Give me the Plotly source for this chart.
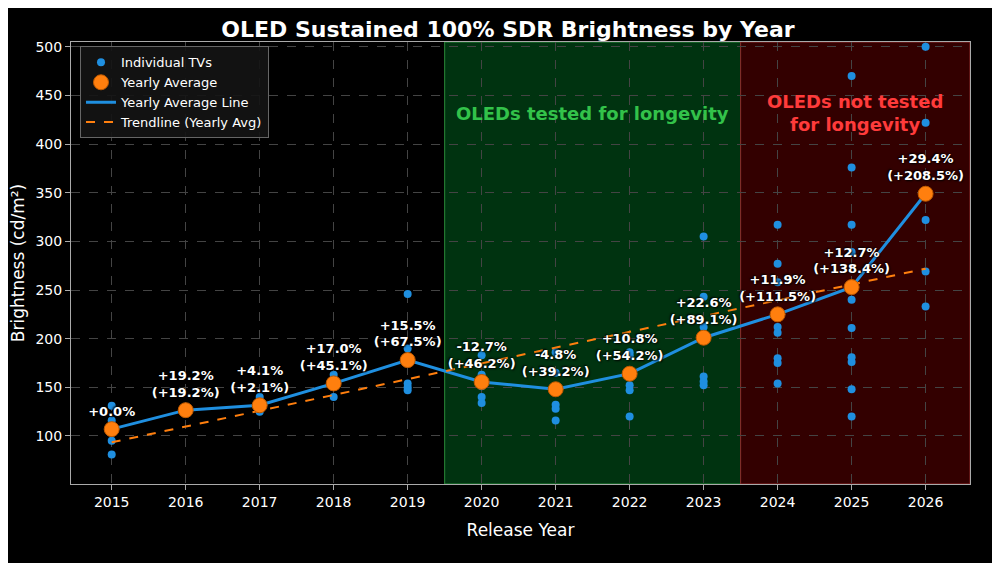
import numpy as np
import plotly.graph_objects as go

# individual TV measurements by year
tv_years = ([2015]*4 + [2016] + [2017]*3 + [2018]*3 + [2019]*5 + [2020]*5 + [2021]*5 +
            [2022]*6 + [2023]*6 + [2024]*8 + [2025]*10 + [2026]*5)
tv_values = [131, 116, 95, 81,
             126,
             140, 131, 125,
             163, 158, 140,
             246, 190, 154, 150, 147,
             183, 163, 151, 140, 134,
             186, 165, 132, 128, 116,
             186, 183, 165, 152, 147, 120,
             305, 243, 212, 161, 156, 152,
             317, 277, 258, 212, 206, 180, 175, 154,
             470, 376, 317, 289, 240, 211, 181, 176, 148, 120,
             500, 422, 322, 269, 233]

years = [2015, 2016, 2017, 2018, 2019, 2020, 2021, 2022, 2023, 2024, 2025, 2026]
avg = [107, 126.5, 131.5, 154, 178, 155.5, 148, 164, 201, 225, 253, 349]
labels = ["+0.0%", "+19.2%<br>(+19.2%)", "+4.1%<br>(+2.1%)", "+17.0%<br>(+45.1%)",
          "+15.5%<br>(+67.5%)", "-12.7%<br>(+46.2%)", "-4.8%<br>(+39.2%)",
          "+10.8%<br>(+54.2%)", "+22.6%<br>(+89.1%)", "+11.9%<br>(+111.5%)",
          "+12.7%<br>(+138.4%)", "+29.4%<br>(+208.5%)"]

p = np.polyfit(years, avg, 1)
trend = np.polyval(p, years)

blue = "#1f8fe0"
orange = "#ff7f0e"

fig = go.Figure()
fig.add_vrect(x0=2019.5, x1=2023.5, fillcolor="#003310", opacity=1, layer="below",
              line=dict(color="#2a8a3a", width=1))
fig.add_vrect(x0=2023.5, x1=2026.6, fillcolor="#330000", opacity=1, layer="below",
              line=dict(color="#8a2a2a", width=1))

fig.add_trace(go.Scatter(x=tv_years, y=tv_values, mode="markers", name="Individual TVs",
                         marker=dict(color=blue, size=8), legendrank=1))
fig.add_trace(go.Scatter(x=years, y=avg, mode="lines", name="Yearly Average Line",
                         line=dict(color=blue, width=3), legendrank=3))
fig.add_trace(go.Scatter(x=years, y=trend, mode="lines", name="Trendline (Yearly Avg)",
                         line=dict(color=orange, width=2, dash="dash"), legendrank=4))
fig.add_trace(go.Scatter(x=years, y=avg, mode="markers+text", name="Yearly Average",
                         marker=dict(color=orange, size=15, line=dict(color="#c05a00", width=1)),
                         text=labels, textposition="top center", legendrank=2,
                         textfont=dict(color="white", size=13, family="DejaVu Sans",
                                       weight="bold", shadow="1px 1px 2px black, -1px -1px 2px black")))

fig.add_annotation(x=2021.5, y=432, text="OLEDs tested for longevity", showarrow=False,
                   font=dict(color="#33c24a", size=18, family="DejaVu Sans", weight="bold"))
fig.add_annotation(x=2025.05, y=432, text="OLEDs not tested<br>for longevity", showarrow=False,
                   font=dict(color="#ff3b3b", size=18, family="DejaVu Sans", weight="bold"))

fig.update_layout(
    width=1000, height=563,
    paper_bgcolor="black", plot_bgcolor="black",
    font=dict(family="DejaVu Sans", color="white", size=14),
    title=dict(text="<b>OLED Sustained 100% SDR Brightness by Year</b>", x=0.5, y=0.975,
               font=dict(size=22)),
    margin=dict(l=63, r=38, t=34, b=87),
    legend=dict(x=0.01, y=0.99, bgcolor="rgba(20,20,20,0.9)", bordercolor="#666",
                borderwidth=1, font=dict(size=13)),
    showlegend=True,
)
fig.update_xaxes(title="Release Year", range=[2014.45, 2026.6], tickvals=years,
                 showgrid=True, gridcolor="#444", griddash="dash", zeroline=False,
                 showline=True, linecolor="#aaa", mirror=True, ticks="outside", tickcolor="#aaa")
fig.update_yaxes(title=dict(text="Brightness (cd/m²)", standoff=8), range=[50.6, 505], dtick=50,
                 automargin=False,
                 showgrid=True, gridcolor="#444", griddash="dash", zeroline=False,
                 showline=True, linecolor="#aaa", mirror=True, ticks="outside", tickcolor="#aaa")

fig.write_html("out.html")
